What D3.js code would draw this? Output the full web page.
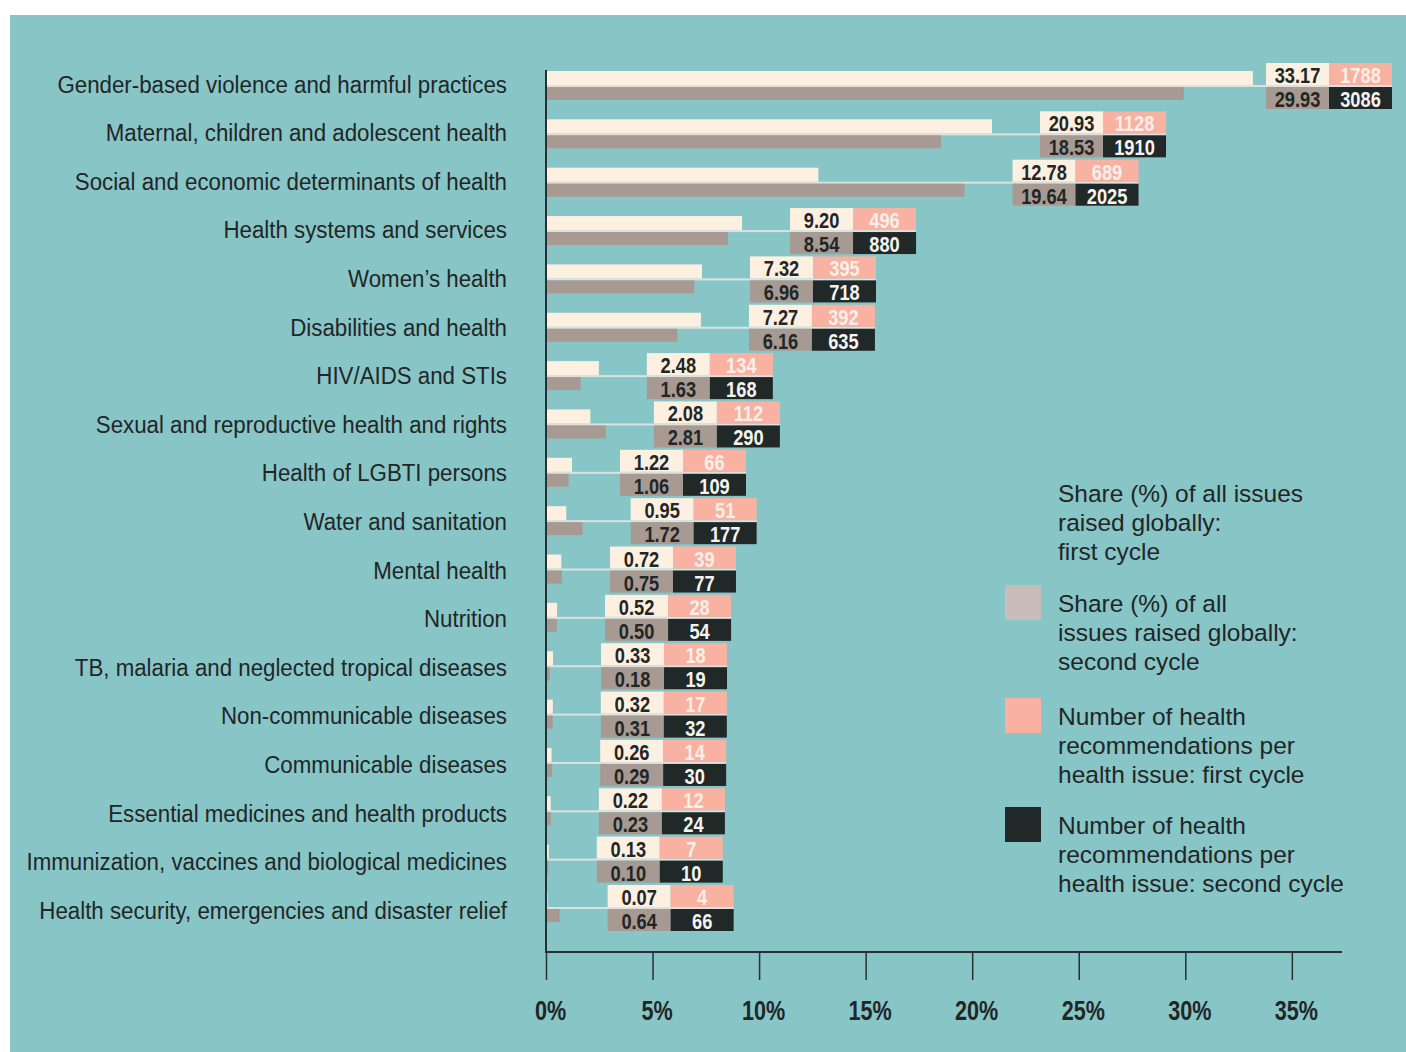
<!DOCTYPE html>
<html>
<head>
<meta charset="utf-8">
<script src="https://cdn.jsdelivr.net/npm/d3@7"></script>
<style>
  body { margin: 0; background: #fff; }
  svg { display: block; }
</style>
</head>
<body>
<svg width="1406" height="1052"></svg>
<script>
// issue categories, top to bottom
var categories = [
  "Gender-based violence and harmful practices",
  "Maternal, children and adolescent health",
  "Social and economic determinants of health",
  "Health systems and services",
  "Women\u2019s health",
  "Disabilities and health",
  "HIV/AIDS and STIs",
  "Sexual and reproductive health and rights",
  "Health of LGBTI persons",
  "Water and sanitation",
  "Mental health",
  "Nutrition",
  "TB, malaria and neglected tropical diseases",
  "Non-communicable diseases",
  "Communicable diseases",
  "Essential medicines and health products",
  "Immunization, vaccines and biological medicines",
  "Health security, emergencies and disaster relief"
];
var shareFirst = [33.17, 20.93, 12.78, 9.20, 7.32, 7.27, 2.48, 2.08, 1.22, 0.95, 0.72, 0.52, 0.33, 0.32, 0.26, 0.22, 0.13, 0.07];
var shareSecond = [29.93, 18.53, 19.64, 8.54, 6.96, 6.16, 1.63, 2.81, 1.06, 1.72, 0.75, 0.50, 0.18, 0.31, 0.29, 0.23, 0.10, 0.64];
var countFirst = [1788, 1128, 689, 496, 395, 392, 134, 112, 66, 51, 39, 28, 18, 17, 14, 12, 7, 4];
var countSecond = [3086, 1910, 2025, 880, 718, 635, 168, 290, 109, 177, 77, 54, 19, 32, 30, 24, 10, 66];
var ticks = [0, 5, 10, 15, 20, 25, 30, 35];

var legendItems = [
  {color: null, lines: ["Share (%) of all issues", "raised globally:", "first cycle"]},
  {color: "#c8bdb8", lines: ["Share (%) of all", "issues raised globally:", "second cycle"]},
  {color: "#f9b2a2", lines: ["Number of health", "recommendations per", "health issue: first cycle"]},
  {color: "#212828", lines: ["Number of health", "recommendations per", "health issue: second cycle"]}
];

var cream = "#fdf0e0", taupe = "#a79a92", salmon = "#f9b2a2", dark = "#212828",
    ink = "#222626", teal = "#88c5c7";
var font = "Liberation Sans, Arial, sans-serif";

var svg = d3.select("svg"),
  width = +svg.attr("width"),
  height = +svg.attr("height");

svg.append("rect")
  .attr("x", 10).attr("y", 15)
  .attr("width", width - 10).attr("height", height - 15)
  .attr("fill", teal);

var x = d3.scaleLinear().domain([0, 35]).range([546, 546 + 35 * 21.31]),
  y = d3.scalePoint().domain(categories).range([86, 908]),
  yLabel = d3.scalePoint().domain(categories).range([84, 910]);

var data = categories.map(function(c, i) {
  return {name: c, s1: shareFirst[i], s2: shareSecond[i], n1: countFirst[i], n2: countSecond[i]};
});

// category labels
svg.append("g").selectAll("text")
  .data(data).enter().append("text")
  .attr("transform", function(d) { return "translate(507," + (yLabel(d.name) + 8.7) + ") scale(0.91,1)"; })
  .attr("text-anchor", "end")
  .attr("font-family", font)
  .attr("font-size", 24.5)
  .attr("fill", ink)
  .text(function(d) { return d.name; });

var rows = svg.append("g").selectAll("g")
  .data(data).enter().append("g")
  .attr("transform", function(d) { return "translate(0," + y(d.name) + ")"; });

var cellW = 63;
function boxX(d) { return Math.min(x(Math.max(d.s1, d.s2)) + 48, 1266); }

// connector line
rows.append("rect")
  .attr("x", x(0)).attr("y", -1)
  .attr("width", function(d) { return boxX(d) + 2 * cellW - x(0); })
  .attr("height", 2)
  .attr("fill", "#dde2e0");

rows.append("rect")
  .attr("x", x(0)).attr("y", -15)
  .attr("width", function(d) { return x(d.s1) - x(0); })
  .attr("height", 14)
  .attr("fill", cream);

rows.append("rect")
  .attr("x", x(0)).attr("y", 1)
  .attr("width", function(d) { return x(d.s2) - x(0); })
  .attr("height", 13)
  .attr("fill", taupe);

// value boxes
var cells = [
  {key: "s1", dx: 0, y0: -23, h: 22, bg: cream, fg: ink, fmt: d3.format(".2f")},
  {key: "n1", dx: 1, y0: -23, h: 22, bg: salmon, fg: "#f7efe8", fmt: d3.format("d")},
  {key: "s2", dx: 0, y0: 1, h: 22, bg: taupe, fg: ink, fmt: d3.format(".2f")},
  {key: "n2", dx: 1, y0: 1, h: 22, bg: dark, fg: "#f4f4f2", fmt: d3.format("d")}
];
cells.forEach(function(c) {
  rows.append("rect")
    .attr("x", function(d) { return boxX(d) + c.dx * cellW; })
    .attr("y", c.y0)
    .attr("width", cellW).attr("height", c.h)
    .attr("fill", c.bg);
  rows.append("text")
    .attr("transform", function(d) {
      return "translate(" + (boxX(d) + c.dx * cellW + cellW / 2) + "," + (c.y0 + c.h / 2 + 9) + ") scale(0.83,1)";
    })
    .attr("text-anchor", "middle")
    .attr("font-family", font)
    .attr("font-weight", "bold")
    .attr("font-size", 22)
    .attr("fill", c.fg)
    .text(function(d) { return c.fmt(d[c.key]); });
});

// axes
svg.append("line")
  .attr("x1", x(0)).attr("x2", x(0))
  .attr("y1", 70).attr("y2", 952)
  .attr("stroke", "#2a3030").attr("stroke-width", 2);
svg.append("line")
  .attr("x1", x(0) - 1).attr("x2", 1342)
  .attr("y1", 952).attr("y2", 952)
  .attr("stroke", "#2a3030").attr("stroke-width", 2);

var xAxis = svg.append("g")
  .attr("transform", "translate(0,952)")
  .call(d3.axisBottom(x).tickValues(ticks).tickSize(28).tickPadding(40)
    .tickFormat(function(d) { return d + "%"; }));
xAxis.select(".domain").remove();
xAxis.selectAll(".tick line").attr("stroke", "#2a3030").attr("stroke-width", 1.5);
xAxis.selectAll(".tick text")
  .attr("font-family", font)
  .attr("font-weight", "bold")
  .attr("font-size", 27)
  .attr("fill", ink)
  .attr("dy", "0")
  .attr("transform", "scale(0.8,1)")
  .attr("x", 4 / 0.8);

// legend
var legendTop = [493, 603, 716, 825];
var legend = svg.append("g").selectAll("g")
  .data(legendItems).enter().append("g")
  .attr("transform", function(d, i) { return "translate(1005," + legendTop[i] + ")"; });
legend.filter(function(d) { return d.color; }).append("rect")
  .attr("x", 0).attr("y", -18)
  .attr("width", 36).attr("height", 35)
  .attr("fill", function(d) { return d.color; });
legend.each(function(d) {
  var t = d3.select(this).append("text")
    .attr("font-family", font)
    .attr("font-size", 24.5)
    .attr("fill", ink);
  d.lines.forEach(function(l, k) {
    t.append("tspan").attr("x", 53).attr("y", 8.7 + k * 29.3).text(l);
  });
});
</script>
</body>
</html>
